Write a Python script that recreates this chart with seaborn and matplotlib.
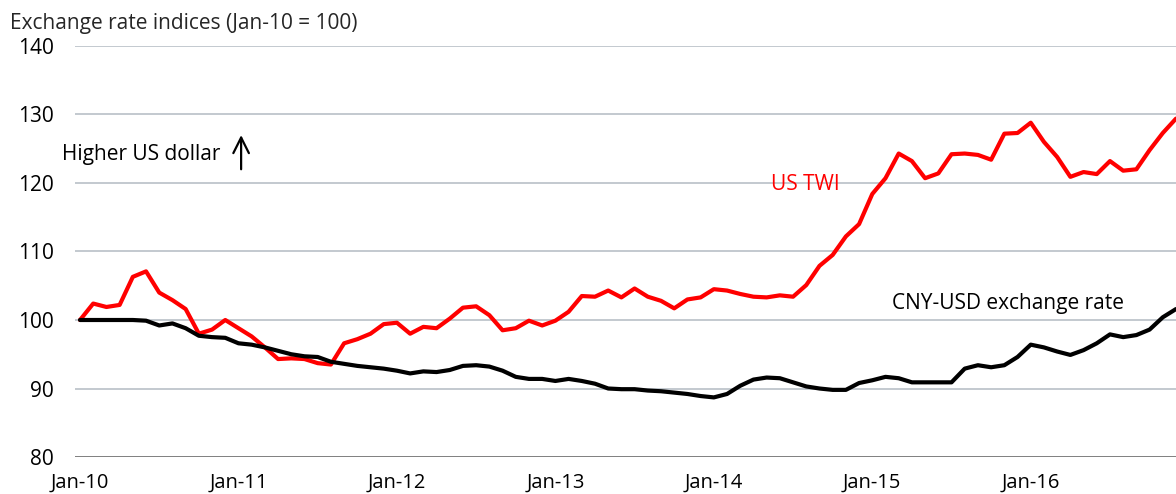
import matplotlib
matplotlib.use("Agg")
import matplotlib.pyplot as plt
import numpy as np
import pandas as pd
import seaborn as sns

# monthly index, Jan-10 = 0 ... Dec-16 = 83
us_twi = [
    100.0, 102.4, 101.9, 102.2, 106.3, 107.1, 104.0, 102.9, 101.6, 98.0, 98.6, 100.0,
    98.8, 97.6, 96.0, 94.3, 94.4, 94.3, 93.7, 93.5, 96.6, 97.2, 98.0, 99.4,
    99.6, 98.0, 99.0, 98.8, 100.2, 101.8, 102.0, 100.7, 98.5, 98.8, 99.9, 99.2,
    99.9, 101.2, 103.5, 103.4, 104.3, 103.3, 104.6, 103.4, 102.8, 101.7, 103.0, 103.3,
    104.5, 104.3, 103.8, 103.4, 103.3, 103.6, 103.4, 105.1, 107.9, 109.5, 112.2, 114.0,
    118.4, 120.7, 124.3, 123.2, 120.7, 121.4, 124.2, 124.3, 124.1, 123.4, 127.2, 127.3,
    128.8, 126.0, 123.8, 120.9, 121.6, 121.3, 123.2, 121.8, 122.0, 124.8, 127.3, 129.4,
]
cny_usd = [
    100.0, 100.0, 100.0, 100.0, 100.0, 99.9, 99.2, 99.5, 98.8, 97.7, 97.5, 97.4,
    96.6, 96.4, 96.0, 95.5, 95.0, 94.7, 94.6, 93.9, 93.6, 93.3, 93.1, 92.9,
    92.6, 92.2, 92.5, 92.4, 92.7, 93.3, 93.4, 93.2, 92.6, 91.7, 91.4, 91.4,
    91.1, 91.4, 91.1, 90.7, 90.0, 89.9, 89.9, 89.7, 89.6, 89.4, 89.2, 88.9,
    88.7, 89.2, 90.4, 91.3, 91.6, 91.5, 90.9, 90.3, 90.0, 89.8, 89.8, 90.8,
    91.2, 91.7, 91.5, 90.9, 90.9, 90.9, 90.9, 92.9, 93.4, 93.1, 93.4, 94.6,
    96.4, 96.0, 95.4, 94.9, 95.6, 96.6, 97.9, 97.5, 97.8, 98.6, 100.4, 101.6,
]
tick_labels = ["Jan-10", "Jan-11", "Jan-12", "Jan-13", "Jan-14", "Jan-15", "Jan-16"]
y_ticks = [80, 90, 100, 110, 120, 130, 140]

months = np.arange(len(us_twi))
df = pd.DataFrame({"month": months, "US TWI": us_twi, "CNY-USD": cny_usd})

sns.set_theme(style="white")
plt.rcParams["font.family"] = ["Open Sans", "DejaVu Sans"]

fig = plt.figure(figsize=(11.76, 4.94), dpi=100)
ax = fig.add_axes([75 / 1176, 1 - 457 / 494, 1 - 75 / 1176, (457 - 46) / 494])

for y in y_ticks:
    ax.axhline(y, color="#7f7f7f" if y == 80 else "#c3c9cf", lw=1.4, zorder=0)

sns.lineplot(data=df, x="month", y="US TWI", color="#ff0000", lw=3, ax=ax)
sns.lineplot(data=df, x="month", y="CNY-USD", color="black", lw=3, ax=ax)

ax.set_xlim(-0.38, 83)
ax.set_ylim(80, 140)
ax.set_yticks(y_ticks)
ax.set_yticklabels([str(v) for v in y_ticks], fontsize=15)
ax.set_xticks(np.arange(0, 84, 12))
ax.set_xticklabels(tick_labels, fontsize=14.5)
ax.tick_params(axis="both", length=0, colors="black")
ax.tick_params(axis="y", pad=15)
ax.tick_params(axis="x", pad=11)
ax.set_xlabel("")
ax.set_ylabel("")
for s in ax.spines.values():
    s.set_visible(False)

ax.text(52.3, 119.8, "US TWI", color="#ff0000", fontsize=15, va="center")
ax.text(61.5, 102.4, "CNY-USD exchange rate", color="black", fontsize=15, va="center")
ax.text(-1.4, 124.2, "Higher US dollar", color="black", fontsize=15, va="center")
ax.annotate("", xy=(12.2, 127.4), xytext=(12.2, 121.6),
            arrowprops=dict(arrowstyle="->", lw=1.6, color="black", mutation_scale=28),
            annotation_clip=False)

fig.text(10 / 1176, 1 - 23 / 494, "Exchange rate indices (Jan-10 = 100)",
         fontsize=15, va="center", ha="left")

fig.savefig("out.png", dpi=100)
